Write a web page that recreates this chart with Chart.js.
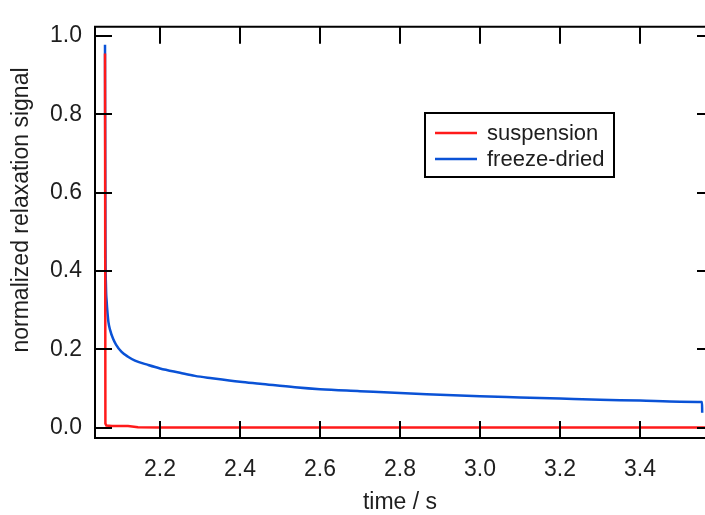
<!DOCTYPE html>
<html>
<head>
<meta charset="utf-8">
<script src="https://cdn.jsdelivr.net/npm/chart.js@4"></script>
<style>
  body { margin: 0; background: #fff; overflow: hidden; }
  #chart { display: block; }
</style>
</head>
<body>
<canvas id="chart" width="705" height="515"></canvas>
<script>
// suspension (red)
var suspensionTime   = [2.0625, 2.0635, 2.066, 2.08, 2.12, 2.145, 2.2, 2.6, 3.0, 3.4, 3.5625];
var suspensionSignal = [0.955, 0.01, 0.005, 0.004, 0.004, 0.001, 0.0, 0.0, 0.0, 0.0, 0.0];

// freeze-dried (blue)
var freezeTime   = [2.0625, 2.0635, 2.065, 2.0665, 2.069, 2.071, 2.075, 2.083, 2.09, 2.104, 2.12, 2.1375,
                    2.17, 2.2, 2.25, 2.2875, 2.33, 2.4, 2.45, 2.5375, 2.6, 2.7, 2.8, 2.9, 3.0, 3.1,
                    3.2, 3.3, 3.4, 3.5, 3.555, 3.5555];
var freezeSignal = [0.977, 0.5, 0.358, 0.325, 0.29, 0.27, 0.25, 0.226, 0.212, 0.193, 0.181, 0.171,
                    0.16, 0.151, 0.14, 0.132, 0.126, 0.117, 0.112, 0.103, 0.098, 0.093, 0.088, 0.084, 0.080, 0.077,
                    0.074, 0.071, 0.069, 0.066, 0.065, 0.038];

var seriesLabels = ['suspension', 'freeze-dried'];
var seriesColors = ['#ff1a1a', '#0a52d6'];

var xTicks = [2.2, 2.4, 2.6, 2.8, 3.0, 3.2, 3.4];
var yTicks = [0.0, 0.2, 0.4, 0.6, 0.8, 1.0];

var xTitle = 'time / s';
var yTitle = 'normalized relaxation signal';

function toPoints(xs, ys) {
    return xs.map(function (x, i) { return { x: x, y: ys[i] }; });
}

var FONT = '"Liberation Sans", Arial, sans-serif';
var TEXT = '#1e1e1e';

// frame, inward ticks, axis titles and the boxed legend
var decorations = {
    id: 'decorations',
    afterDraw: function (chart) {
        var ctx = chart.ctx;
        var a = chart.chartArea;
        var xs = chart.scales.x, ys = chart.scales.y;
        ctx.save();
        ctx.strokeStyle = '#000';
        ctx.lineWidth = 2;
        ctx.lineCap = 'butt';

        // top frame line
        ctx.beginPath();
        ctx.moveTo(a.left - 1, a.top);
        ctx.lineTo(a.right, a.top);
        ctx.stroke();

        // x ticks, bottom and top
        xTicks.forEach(function (v) {
            var px = Math.round(xs.getPixelForValue(v));
            ctx.beginPath();
            ctx.moveTo(px, a.bottom);
            ctx.lineTo(px, a.bottom - 17);
            ctx.moveTo(px, a.top);
            ctx.lineTo(px, a.top + 17);
            ctx.stroke();
        });
        // y ticks, left and right
        yTicks.forEach(function (v) {
            var py = Math.round(ys.getPixelForValue(v));
            ctx.beginPath();
            ctx.moveTo(a.left, py);
            ctx.lineTo(a.left + 17, py);
            ctx.moveTo(a.right, py);
            ctx.lineTo(a.right - 8, py);
            ctx.stroke();
        });

        // axis titles
        ctx.fillStyle = TEXT;
        ctx.font = '23px ' + FONT;
        ctx.textAlign = 'center';
        ctx.textBaseline = 'middle';
        ctx.fillText(xTitle, (a.left + a.right) / 2, 503);
        ctx.save();
        ctx.translate(22, 210);
        ctx.rotate(-Math.PI / 2);
        ctx.fillText(yTitle, 0, 0);
        ctx.restore();

        // legend box
        var bx = 425, by = 113, bw = 189, bh = 64;
        ctx.fillStyle = '#fff';
        ctx.fillRect(bx, by, bw, bh);
        ctx.strokeStyle = '#000';
        ctx.lineWidth = 2;
        ctx.strokeRect(bx, by, bw, bh);
        ctx.font = '22px ' + FONT;
        ctx.textAlign = 'left';
        chart.data.datasets.forEach(function (ds, i) {
            var ly = by + 20 + i * 26;
            ctx.strokeStyle = ds.borderColor;
            ctx.lineWidth = 2.5;
            ctx.beginPath();
            ctx.moveTo(bx + 10, ly);
            ctx.lineTo(bx + 52, ly);
            ctx.stroke();
            ctx.fillStyle = TEXT;
            ctx.fillText(ds.label, bx + 62, ly + 1);
        });
        ctx.restore();
    }
};

var chart = new Chart(document.getElementById('chart').getContext('2d'), {
    type: 'line',
    data: {
        datasets: [
            {
                label: seriesLabels[0],
                data: toPoints(suspensionTime, suspensionSignal),
                borderColor: seriesColors[0],
                borderWidth: 2.5,
                pointRadius: 0,
                tension: 0,
                fill: false
            },
            {
                label: seriesLabels[1],
                data: toPoints(freezeTime, freezeSignal),
                borderColor: seriesColors[1],
                borderWidth: 2.5,
                pointRadius: 0,
                cubicInterpolationMode: 'monotone',
                fill: false
            }
        ]
    },
    options: {
        responsive: false,
        animation: false,
        layout: { padding: { top: 16, right: 0, bottom: 0, left: 0 } },
        plugins: {
            legend: { display: false },
            tooltip: { enabled: false }
        },
        scales: {
            x: {
                type: 'linear',
                min: 2.0375,
                max: 3.5625,
                afterFit: function (s) { s.height = 77; },
                afterBuildTicks: function (s) {
                    s.ticks = xTicks.map(function (v) { return { value: v }; });
                },
                grid: { display: false, drawTicks: false },
                border: { display: true, color: '#000', width: 2 },
                ticks: {
                    padding: 18,
                    color: TEXT,
                    font: { family: FONT, size: 23 },
                    maxRotation: 0,
                    callback: function (v) { return Number(v).toFixed(1); }
                }
            },
            y: {
                min: -0.0266,
                max: 1.0231,
                afterFit: function (s) { s.width = 95; },
                afterBuildTicks: function (s) {
                    s.ticks = yTicks.map(function (v) { return { value: v }; });
                },
                grid: { display: false, drawTicks: false },
                border: { display: true, color: '#000', width: 2 },
                ticks: {
                    padding: 13,
                    color: TEXT,
                    font: { family: FONT, size: 23 },
                    callback: function (v) { return Number(v).toFixed(1); }
                }
            }
        }
    },
    plugins: [decorations]
});
</script>
</body>
</html>
